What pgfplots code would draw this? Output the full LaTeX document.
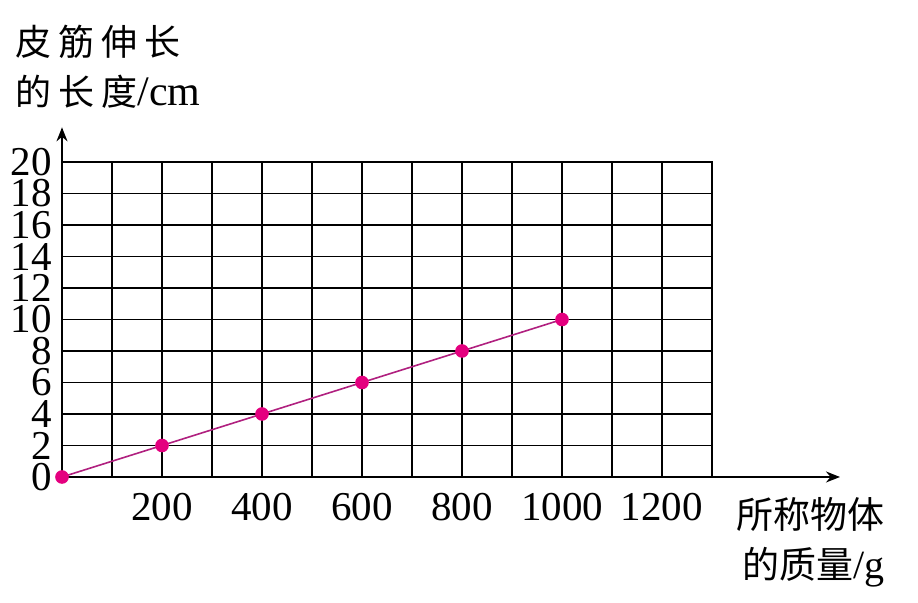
\documentclass[border=0pt]{standalone}
\usepackage{fontspec}
\setmainfont{Liberation Serif}
\newfontfamily\cjk{Noto Sans CJK SC}
\usepackage{pgfplots}
\pgfplotsset{compat=1.18}
\usetikzlibrary{arrows.meta}
\definecolor{linecol}{HTML}{B0207F}
\definecolor{markcol}{HTML}{E4007F}
\begin{document}
\begin{tikzpicture}
\useasboundingbox (0,0) rectangle (459pt,301.5pt);
\begin{axis}[
  at={(31pt,63pt)}, anchor=origin,
  x=0.25pt, y=7.875pt,
  xmin=0, xmax=1300, ymin=0, ymax=20,
  xtick={0,100,...,1300},
  xticklabels={,,200,,400,,600,,800,,1000,,1200,},
  ytick={0,2,...,20},
  grid=major,
  major grid style={black, line width=0.9pt},
  axis line style={black, line width=0.9pt},
  major tick length=0pt,
  /pgf/number format/assume math mode=true,
  tick label style={font=\fontsize{20.5}{20.5}\selectfont, inner sep=0pt},
  yticklabel style={anchor=east, xshift=-5pt},
  xticklabel style={anchor=north, yshift=-8pt},
  clip=false,
]
\draw[black, line width=0.9pt, -{Stealth[length=7pt,width=5.5pt]}] (axis cs:0,0) -- (axis cs:1556,0);
\draw[black, line width=0.9pt, -{Stealth[length=7pt,width=5.5pt]}] (axis cs:0,0) -- (axis cs:0,22.2);
\addplot[color=linecol, line width=0.8pt, mark=*, mark size=3pt,
  mark options={fill=markcol, draw=markcol}]
  coordinates {(0,0) (200,2) (400,4) (600,6) (800,8) (1000,10)};
\end{axis}
\node[anchor=north west, inner sep=0pt, align=left, font=\fontsize{18}{25}\selectfont]
  at (7.5pt,289pt) {{\cjk 皮\hspace{3.5pt}筋\hspace{3.5pt}伸\hspace{3.5pt}长}\\{\cjk 的\hspace{3.5pt}长\hspace{3.5pt}度}{\fontsize{21}{25}\selectfont/cm}};
\node[anchor=north east, inner sep=0pt, align=right, font=\fontsize{18.5}{25}\selectfont]
  at (442.5pt,53pt) {{\cjk 所称物体}\\{\cjk 的质量}{\fontsize{20}{25}\selectfont/g}};
\end{tikzpicture}
\end{document}
